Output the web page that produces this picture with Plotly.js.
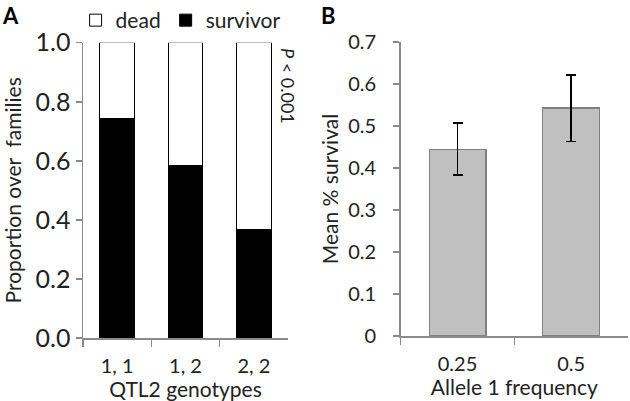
<!DOCTYPE html>
<html>
<head>
<meta charset="utf-8">
<script src="https://cdn.plot.ly/plotly-3.0.1.min.js"></script>
<style>html,body{margin:0;padding:0;background:#fff;}#chart{width:630px;height:401px;}</style>
</head>
<body>
<div id="chart"></div>
<script>
// Panel A data
const genotypes = ["1, 1", "1, 2", "2, 2"];
const survivor = [0.744, 0.585, 0.367];
const dead = [0.256, 0.415, 0.633];
// Panel B data
const alleleFreq = ["0.25", "0.5"];
const meanSurvival = [0.444, 0.543];
const errPlus = [0.063, 0.078];
const errMinus = [0.061, 0.080];

const FONT = "Lato, 'Open Sans', sans-serif";
const axisCol = "#8a8a8a";
const txtCol = "#222";

const traces = [
  {type: "bar", name: "survivor", x: genotypes, y: survivor, xaxis: "x", yaxis: "y",
   width: 0.51, marker: {color: "#000", line: {color: "#000", width: 1}}},
  {type: "bar", name: "dead", x: genotypes, y: dead, xaxis: "x", yaxis: "y",
   width: 0.51, marker: {color: "#fff", line: {color: "#000", width: 1}}},
  {type: "bar", name: "mean", x: alleleFreq, y: meanSurvival, xaxis: "x2", yaxis: "y2",
   width: 0.5, showlegend: false,
   marker: {color: "#c0c0c0", line: {color: "#808080", width: 1.2}},
   error_y: {type: "data", symmetric: false, array: errPlus, arrayminus: errMinus,
             color: "#000", thickness: 1.8, width: 5}}
];

const fontAy = {family: FONT, size: 25, color: txtCol};
const fontX = {family: FONT, size: 20, color: txtCol};
const fontB = {family: FONT, size: 20, color: txtCol};
const titleA = {family: FONT, size: 21, color: txtCol};
const titleB = {family: FONT, size: 21, color: txtCol};

const baseY = {showgrid: false, zeroline: false, showline: true, linecolor: axisCol, linewidth: 1.5,
  ticks: "outside", ticklen: 6, tickcolor: axisCol, tickwidth: 1.5, fixedrange: true};
const baseX = {type: "category", showgrid: false, zeroline: false, showline: true, linecolor: axisCol, linewidth: 1.5,
  ticks: "outside", ticklen: 7, tickcolor: axisCol, tickwidth: 1.5, tickson: "boundaries", fixedrange: true,
  ticklabelstandoff: 9};

const layout = {
  width: 630, height: 401,
  margin: {l: 0, r: 0, t: 0, b: 0},
  paper_bgcolor: "#fff", plot_bgcolor: "#fff",
  barmode: "stack",
  showlegend: true,
  legend: {orientation: "h", x: 0.12, y: 1.0, xanchor: "left", yanchor: "top",
           traceorder: "reversed", font: {family: FONT, size: 21, color: txtCol}, bgcolor: "rgba(0,0,0,0)"},
  xaxis: Object.assign({}, baseX, {domain: [83/630, 288/630], anchor: "y", range: [-0.5, 2.5],
    tickfont: fontX, title: {text: "QTL2 genotypes", font: titleA, standoff: 4}}),
  yaxis: Object.assign({}, baseY, {domain: [(401-338)/401, (401-42.7)/401], anchor: "x", range: [0, 1],
    dtick: 0.2, tickformat: ".1f", tickfont: fontAy,
    title: {text: "Proportion over  families", font: titleA, standoff: 13}}),
  xaxis2: Object.assign({}, baseX, {domain: [400.7/630, 628/630], anchor: "y2", range: [-0.5, 1.5],
    tickfont: fontB, title: {text: "Allele 1 frequency", font: titleB, standoff: 4}}),
  yaxis2: Object.assign({}, baseY, {domain: [(401-336)/401, (401-42)/401], anchor: "x2", range: [0, 0.7],
    dtick: 0.1, tickfont: fontB, ticklabelstandoff: 13,
    title: {text: "Mean % survival", font: titleB, standoff: 4}}),
  annotations: [
    {text: "<b>A</b>", xref: "paper", yref: "paper", x: 0, y: 1, xanchor: "left", yanchor: "top",
     showarrow: false, font: {family: FONT, size: 22, color: "#000"}},
    {text: "<b>B</b>", xref: "paper", yref: "paper", x: 319/630, y: 1, xanchor: "left", yanchor: "top",
     showarrow: false, font: {family: FONT, size: 22, color: "#000"}},
    {text: "<i>P</i> < 0.001", xref: "paper", yref: "paper", x: 288/630, y: 1 - 86/401, xanchor: "center", yanchor: "middle",
     textangle: 90, showarrow: false, font: {family: FONT, size: 18, color: txtCol}}
  ]
};

Plotly.newPlot("chart", traces, layout, {staticPlot: true, displayModeBar: false});
</script>
</body>
</html>
